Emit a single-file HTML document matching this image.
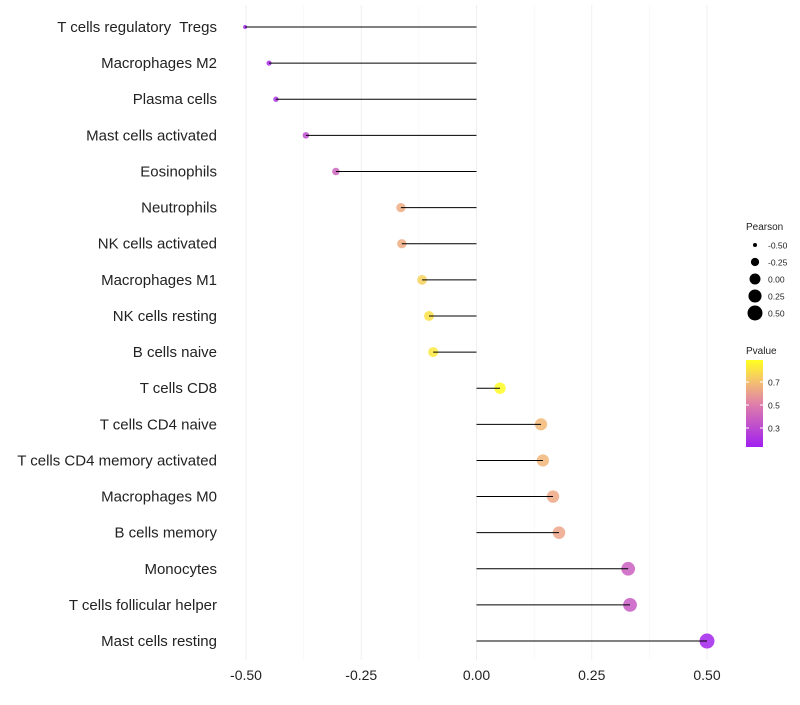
<!DOCTYPE html>
<html><head><meta charset="utf-8"><style>
body{margin:0;background:#fff;font-family:"Liberation Sans",sans-serif}
text{white-space:pre}
</style></head><body>
<svg id="c" width="800" height="700" xmlns="http://www.w3.org/2000/svg">
<defs><linearGradient id="pg" x1="0" y1="1" x2="0" y2="0">
<stop offset="0" stop-color="#A020F0"/><stop offset="0.5" stop-color="#E080A8"/><stop offset="0.75" stop-color="#F4C070"/><stop offset="1" stop-color="#FFFF20"/></linearGradient></defs>
</svg>
<script>
const categories=["T cells regulatory  Tregs","Macrophages M2","Plasma cells","Mast cells activated","Eosinophils","Neutrophils","NK cells activated","Macrophages M1","NK cells resting","B cells naive","T cells CD8","T cells CD4 naive","T cells CD4 memory activated","Macrophages M0","B cells memory","Monocytes","T cells follicular helper","Mast cells resting"];
const pearson=[-0.502,-0.45,-0.435,-0.37,-0.305,-0.164,-0.162,-0.118,-0.103,-0.094,0.051,0.14,0.144,0.166,0.179,0.329,0.333,0.5];
const pvalue=[0.15,0.17,0.2,0.3,0.4,0.64,0.64,0.75,0.8,0.82,0.88,0.68,0.67,0.63,0.62,0.38,0.36,0.15];
const xTicks=[-0.5,-0.25,0,0.25,0.5];
const xTickLabels=["-0.50","-0.25","0.00","0.25","0.50"];
const sizeTicks=[-0.5,-0.25,0,0.25,0.5];
const pTicks=[0.7,0.5,0.3];
const ns="http://www.w3.org/2000/svg",svg=document.getElementById('c');
const x=v=>476.5+v*461;
const y=i=>27+i*36.12;
const r=v=>Math.sqrt(Math.max(2,30+52*v));
function col(p){const t=Math.max(0,Math.min(1,(p-0.13)/0.76));
const stops=[[0,[160,32,240]],[0.5,[224,128,168]],[0.75,[244,192,112]],[1,[255,255,32]]];
for(let k=1;k<stops.length;k++){if(t<=stops[k][0]){const a=stops[k-1],b=stops[k],u=(t-a[0])/(b[0]-a[0]);return `rgb(${a[1].map((c,j)=>Math.round(c+(b[1][j]-c)*u)).join(',')})`;}}return 'rgb(255,255,32)';}
function el(t,a,txt){const e=document.createElementNS(ns,t);for(const k in a)e.setAttribute(k,a[k]);if(txt!==undefined)e.textContent=txt;svg.appendChild(e);return e;}
[-0.375,-0.125,0.125,0.375].forEach(v=>{const g=el('line',{x1:x(v),x2:x(v),y1:5,y2:660,stroke:'#f5f5f5','stroke-width':0.6});});
xTicks.forEach((v,i)=>{const g=el('line',{x1:x(v),x2:x(v),y1:5,y2:660,stroke:'#efefef','stroke-width':1});
const t=el('text',{x:x(v),y:680,'text-anchor':'middle','font-size':14,fill:'#222'},xTickLabels[i]);});
categories.forEach((c,i)=>{
const p=el('circle',{cx:x(pearson[i]),cy:y(i),r:r(pearson[i]),fill:col(pvalue[i]),'fill-opacity':0.85});
const g=el('line',{x1:x(0),x2:x(pearson[i]),y1:y(i),y2:y(i),stroke:'#000','stroke-width':1});
const t=el('text',{x:217,y:y(i)+5,'text-anchor':'end','font-size':15,fill:'#222'},c);});
let t=el('text',{x:746,y:230,'font-size':10,fill:'#222'},'Pearson');
sizeTicks.forEach((v,i)=>{const cy=245+i*17;const p=el('circle',{cx:755,cy:cy,r:r(v),fill:'#000'});
const l=el('text',{x:768,y:cy+3.5,'font-size':8.5,fill:'#222'},xTickLabels[i]);});
t=el('text',{x:746,y:354,'font-size':10,fill:'#222'},'Pvalue');
const bar=el('rect',{x:746,y:360,width:17,height:87,fill:'url(#pg)'});
const py=p=>405-(p-0.5)*115;
pTicks.forEach(p=>{el('line',{x1:746,x2:749,y1:py(p),y2:py(p),stroke:'#fff'});el('line',{x1:760,x2:763,y1:py(p),y2:py(p),stroke:'#fff'});
const l=el('text',{x:768,y:py(p)+3.5,'font-size':8.5,fill:'#222'},p.toFixed(1));});
</script>
</body></html>
